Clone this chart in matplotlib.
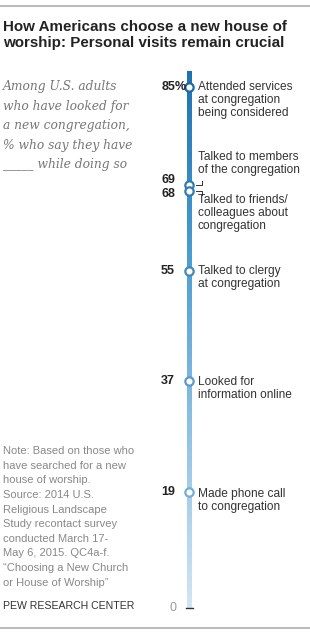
import numpy as np
import matplotlib.pyplot as plt
from matplotlib.colors import LinearSegmentedColormap

# data
values = [85, 69, 68, 55, 37, 19]
value_labels = ["85%", "69", "68", "55", "37", "19"]
items = [
    "Attended services\nat congregation\nbeing considered",
    "Talked to members\nof the congregation",
    "Talked to friends/\ncolleagues about\ncongregation",
    "Talked to clergy\nat congregation",
    "Looked for\ninformation online",
    "Made phone call\nto congregation",
]
bar_top = 87.5

W, H = 310, 639
fig = plt.figure(figsize=(W / 100, H / 100), dpi=100)

def px(x, y):
    return x / W, 1 - y / H

SANS = "Liberation Sans"
SERIF = "DejaVu Serif"

# scale: value 0 at y=608 px, 85 at y=87 px
ppu = (608 - 87) / 85.0
ax = fig.add_axes([0, 0, 1, 1])
ax.set_xlim(0, W)
ax.set_ylim(-(H - 608) / ppu, 608 / ppu)
ax.axis("off")

cmap = LinearSegmentedColormap.from_list("pew", ["#d2e5f4", "#8fc1e2", "#4a9ccf", "#1f73ad"])
grad = np.linspace(0, 1, 256).reshape(-1, 1)
ax.imshow(grad, cmap=cmap, origin="lower", aspect="auto",
          extent=[186.5, 191.5, 0, bar_top], zorder=1)

# zero tick
ax.plot([186, 193], [0, 0], color="#333333", lw=1, zorder=2)
ax.text(177, 0, "0", ha="right", va="center", fontsize=9, color="#999999", family=SANS)

# nudge for the two close values so their labels don't collide
label_shift = [0, 0.75, -0.5, 0, 0, 0]

num_kw = dict(va="center", fontsize=9, fontweight="bold", color="#222222", family=SANS)
for v, lab, dy in zip(values, value_labels, label_shift):
    edge = LinearSegmentedColormap.from_list("e", ["#8cc3e6", "#1a6aa3"])(v / 85)
    ax.scatter([189], [v], s=36, facecolor="white", edgecolor=edge, linewidth=1.6, zorder=3)
    if lab.endswith("%"):
        ax.text(175, v + dy, lab[:-1], ha="right", **num_kw)
        ax.text(175, v + dy, "%", ha="left", **num_kw)
    else:
        ax.text(175, v + dy, lab, ha="right", **num_kw)

lab_kw = dict(fontsize=8.6, color="#333333", family=SANS, linespacing=1.12)
# item labels
ax.text(198, values[0] + 1.0, items[0], ha="left", va="top", **lab_kw)
ax.text(198, values[1] + 1.4, items[1], ha="left", va="bottom", **lab_kw)
ax.text(198, values[2] - 0.4, items[2], ha="left", va="top", **lab_kw)
ax.text(198, values[3] + 1.0, items[3], ha="left", va="top", **lab_kw)
ax.text(198, values[4] + 0.8, items[4], ha="left", va="top", **lab_kw)
ax.text(198, values[5] + 0.6, items[5], ha="left", va="top", **lab_kw)

# small leader marks for 69 / 68
ax.plot([196, 202, 202], [values[1], values[1], values[1] + 0.6], color="#333333", lw=0.7)
ax.plot([196, 202, 202], [values[2], values[2], values[2] - 0.6], color="#333333", lw=0.7)

# rules
ax.plot([0, W], [(608 - 6) / ppu, (608 - 6) / ppu], color="#bbbbbb", lw=1.5, clip_on=False)
ax.plot([0, W], [(608 - 628) / ppu, (608 - 628) / ppu], color="#bbbbbb", lw=1.5, clip_on=False)

fig.text(*px(3, 20), "How Americans choose a new house of\nworship: Personal visits remain crucial",
         ha="left", va="top", fontsize=10.9, fontweight="bold", color="#222222",
         family=SANS, linespacing=1.2)

fig.text(*px(3, 80), "Among U.S. adults\nwho have looked for\na new congregation,\n% who say they have\n_____ while doing so",
         ha="left", va="top", fontsize=8.8, style="italic", color="#777777",
         family=SERIF, linespacing=1.66)

fig.text(*px(3, 446), "Note: Based on those who\nhave searched for a new\nhouse of worship.\nSource: 2014 U.S.\nReligious Landscape\nStudy recontact survey\nconducted March 17-\nMay 6, 2015. QC4a-f.\n\u201cChoosing a New Church\nor House of Worship\u201d",
         ha="left", va="top", fontsize=8.0, color="#888888", family=SANS, linespacing=1.58)

fig.text(*px(3, 606), "PEW RESEARCH CENTER", ha="left", va="center", fontsize=7.6,
         color="#333333", family=SANS)

fig.savefig("out.png", dpi=100)
